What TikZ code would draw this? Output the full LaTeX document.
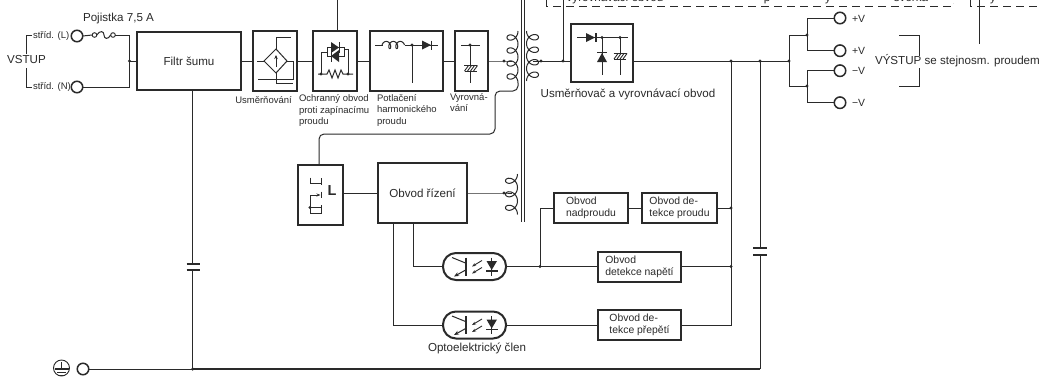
\documentclass[tikz,border=0pt]{standalone}
\usepackage{fontspec}
\setmainfont{Liberation Sans}
\usetikzlibrary{arrows.meta,calc}
\definecolor{ink}{HTML}{2A2A2A}
\newcommand\szA{\fontsize{11.6}{13}\selectfont}
\newcommand\szB{\fontsize{10.4}{11.8}\selectfont}
\newcommand\szC{\fontsize{9.5}{11.6}\selectfont}
\tikzset{
  fA/.style={font=\szA},
  fB/.style={font=\szB},
  fC/.style={font=\szC},
  wire/.style={draw=ink,line width=1pt},
  thin wire/.style={draw=ink,line width=0.9pt},
  hv/.style={draw=ink,line width=1.5pt},
  bx/.style={draw=ink,line width=2.8pt,fill=white,rectangle,inner sep=0pt,outer sep=0pt,align=left,text=ink},
  term/.style={draw=ink,line width=1.5pt,fill=white,circle,inner sep=0pt,outer sep=0pt,minimum size=11.5pt},
  fuseend/.style={draw=ink,line width=.9pt,fill=white,circle,inner sep=0pt,outer sep=0pt,minimum size=4.6pt},
  pill/.style={draw=ink,line width=2pt,fill=white,rectangle,rounded corners=13pt,inner sep=0pt,outer sep=0pt,minimum width=63pt,minimum height=27pt},
  txt/.style={inner sep=0pt,outer sep=0pt,text=ink,align=left},
  dashbox/.style={draw=ink,line width=1pt,dash pattern=on 8pt off 5pt}
}
\newcommand\jd[1]{\fill[ink] (#1) circle (1.7pt);}
\newcommand\ecap[2]{%
  \draw[wire] ({#1-6.5},#2)--({#1+6.5},#2);
  \draw[wire] ({#1-6},{#2+6})--({#1+6},{#2+6});
  \foreach \i in {-6,-3,0,3}{\draw[thin wire] ({#1+\i},{#2+6})--({#1+\i+4},{#2+0.5});}
}
\newcommand\optoin[1]{%
  \draw[hv] (466,{#1-9})--(466,{#1+9});
  \draw[wire] (452,{#1-9})--(466,{#1-3.3});
  \draw[wire,-{Stealth[length=5pt,width=4pt]}] (466,{#1+3.3})--(454,{#1+10});
  \draw[thin wire,-{Stealth[length=4pt,width=3pt]}] (482,{#1-6})--(472,{#1});
  \draw[thin wire,-{Stealth[length=4pt,width=3pt]}] (482,{#1+1})--(472,{#1+7});
  \draw[wire] (491.7,{#1-9})--(491.7,{#1+9});
  \fill[ink] (486.5,{#1-5.5})--(497,{#1-5.5})--(491.7,{#1+3.5})--cycle;
  \draw[hv] (486,{#1+4.7})--(497.5,{#1+4.7});
}
\begin{document}
\begin{tikzpicture}[x=1pt,y=-1pt]
\useasboundingbox (0,0) rectangle (1040,376);
\clip (0,0) rectangle (1040,376);
\fill[white] (0,0) rectangle (1040,376);

% dashed box at the top
\draw[dashbox] (546,0)--(546,6)--(953,6)--(953,3);
\draw[dashbox] (970,0)--(970,6)--(1040,6);
\node[txt,fA,anchor=base] (tv) at (615,1.5) {vyrovnávací obvod};
\node[txt,fA,anchor=base] (tsv) at (911,1.5) {svorka};
\node[txt,fA,anchor=base] (ty1) at (767,1) {p};
\node[txt,fA,anchor=base] (ty2) at (828,1) {y};
\node[txt,fA,anchor=base] (ty3) at (993,1) {y};

% input
\node[txt,fA] (vstup) at (26.5,60) {VSTUP};
\node[txt,fC,anchor=west] (sl) at (33,36) {stříd. (L)};
\node[txt,fC,anchor=west] (sn) at (33,87) {stříd. (N)};
\node[term] (tl) at (77,36) {};
\node[term] (tn) at (77,87) {};
\draw[wire] (26,54)--(26,35)--(32,35);
\draw[wire] (26,68)--(26,87)--(32,87);
\node[txt,fA] (poj) at (118.5,18) {Pojistka 7,5 A};
\node[fuseend] (fa) at (94.5,35) {};
\node[fuseend] (fb) at (113,35) {};
\draw[wire] (tl.east)--(fa.west);
\draw[wire] (fa.east) .. controls (100,30) and (104,31) .. (104,35) .. controls (104,39) and (108,40) .. (fb.west);
\coordinate (jin) at (129.5,61);
\draw[wire] (fb.east)--(129.5,35)--(129.5,87)--(tn.east);
\jd{jin}

% top row boxes
\node[bx,fA,minimum width=104pt,minimum height=58pt] (filtr) at (189,61) {Filtr šumu};
\node[bx,minimum width=44pt,minimum height=60pt] (usm) at (275,61) {};
\node[bx,minimum width=44pt,minimum height=60pt] (och) at (335,61) {};
\node[bx,minimum width=73pt,minimum height=60pt] (pot) at (406.5,61) {};
\node[bx,minimum width=33pt,minimum height=60pt] (vyr) at (471.5,61) {};
\draw[wire] (jin)--(filtr.west);
\draw[wire] (filtr.east)--(usm.west);
\draw[wire] (usm.east)--(och.west);
\draw[wire] (och.east)--(pot.west);
\draw[wire] (pot.east)--(vyr.west);

% bridge
\draw[wire] (276,49)--(276,37)--(291,37);
\draw[wire] (264,61)--(276,49)--(287,61)--(276,73)--cycle;
\draw[wire] (257,61)--(264,61);
\draw[wire] (287,61)--(293,61)--(293,79)--(258,79);
\draw[wire] (276,73)--(276,83)--(293,83);
\draw[thin wire,-{Stealth[length=4pt,width=3.5pt]}] (276,67)--(276,55);

% inrush protection
\coordinate (ctop) at (337,0);
\draw[wire] (ctop)--(ctop|-och.north);
\draw[wire] (318,74)--(327,74)--(329,70)--(332,78)--(335,70)--(338,78)--(341,70)--(343,74)--(353,74);
\draw[wire] (321,74)--(321,52)--(327,52);
\draw[wire] (348,74)--(348,49)--(344,49);
\draw[thin wire] (327,47.5) rectangle (344,56.5);
\fill[ink] (331,42)--(339,47.5)--(331,53)--cycle;
\draw[wire] (339.6,42)--(339.6,53);
\fill[ink] (339,50)--(331,56)--(339,62)--cycle;
\draw[wire] (331,51)--(331,62);
\jd{321,74} \jd{348,74}

% harmonic suppression
\draw[wire] (375,45)--(382.5,45);
\draw[wire] plot[smooth,domain=90:990,samples=61] ({382.75+0.01944*\x-2.5*sin(\x)},{45+3.6*cos(\x)});
\draw[wire] (405,45)--(438,45);
\draw[wire] (412,45)--(412,83);
\fill[ink] (422,40.5)--(431,45)--(422,49.5)--cycle;
\draw[hv] (431.5,40.5)--(431.5,49.5);
\jd{412,45}

% smoothing
\draw[wire] (461,45)--(480,45);
\draw[wire] (470,45)--(470,65);
\ecap{470.5}{65}
\draw[wire] (470,71)--(470,83);
\jd{470,45}

% transformer
\draw[draw=ink,line width=1pt] (521,0)--(521,222);
\draw[draw=ink,line width=1pt] (524,0)--(524,222);
\draw[wire] plot[smooth,domain=0:1440,samples=97] ({512.5+5.5*cos(\x)},{31+0.03611*\x+5.5*sin(\x)});
\coordinate (pe) at (518,83);
\draw[wire] plot[smooth,domain=0:1440,samples=97] ({532.5-6*cos(\x)},{31+0.03472*\x+5.5*sin(\x)});
\draw[wire] plot[smooth,domain=0:1080,samples=73] ({511.5+6*cos(\x)},{174+0.0375*\x+5.5*sin(\x)});
\coordinate (pin) at (504,61);
\coordinate (sout) at (541,61);
\coordinate (jsec) at (563,61);
\draw[wire] (vyr.east)--(pin)--(512,61);
\draw[wire] (533,61)--(sout);
\jd{pin} \jd{sout}
\node[bx,minimum width=45pt,minimum height=60pt] (lbx) at (320.5,195) {};
\draw[wire,rounded corners=5pt] (pe)--(518,91)--(495,91)--(495,134)--(319,134)--(319,165);

% output rectifier
\node[bx,minimum width=62pt,minimum height=58pt] (rect) at (602,53) {};
\draw[wire] (sout)--(rect.west|-sout);
\draw[wire] (jsec)--(563,0);
\jd{jsec}
\draw[wire] (577,37.5)--(628,37.5);
\fill[ink] (586,33)--(595,37.5)--(586,42)--cycle;
\draw[hv] (595.8,33)--(595.8,42);
\draw[wire] (602,37.5)--(602,75);
\draw[hv] (597,52.7)--(607,52.7);
\fill[ink] (602,53)--(607,62)--(597,62)--cycle;
\draw[wire] (620,37.5)--(620,53);
\ecap{620}{53}
\draw[wire] (620,59)--(620,75);
\jd{602,37.5} \jd{620,37.5}
\node[txt,fA] (ru) at (628,94) {Usměrňovač a vyrovnávací obvod};

% output bus
\coordinate (j1) at (731,61);
\coordinate (j2) at (760,61);
\coordinate (j3) at (789,61);
\draw[wire] (rect.east|-j1)--(j3);
\jd{j1} \jd{j2} \jd{j3}
\node[term] (o1) at (840,18) {};
\node[term] (o2) at (840,50.7) {};
\node[term] (o3) at (840,70.7) {};
\node[term] (o4) at (840,102.7) {};
\coordinate (jp) at (807,35);
\coordinate (jm) at (807,86);
\draw[wire] (jp)--(789,35)--(789,86)--(jm);
\draw[wire] (o1.west)--(807,18)--(807,50.7)--(o2.west);
\draw[wire] (o3.west)--(807,70.7)--(807,102.7)--(o4.west);
\jd{jp} \jd{jm}
\node[txt,fB,anchor=west] (l1) at (852,19) {+V};
\node[txt,fB,anchor=west] (l2) at (852,51) {+V};
\node[txt,fB,anchor=west] (l3) at (852,71) {−V};
\node[txt,fB,anchor=west] (l4) at (852,103) {−V};
\draw[wire] (899,35)--(919,35)--(919,56);
\draw[wire] (899,86)--(919,86)--(919,68);
\node[txt,fA,anchor=west] (vy) at (875,61) {VÝSTUP se stejnosm. proudem};
\draw[wire] (979,0)--(979,44);

% captions
\node[txt,fC] (c1) at (263.5,100) {Usměrňování};
\node[txt,fC,anchor=north west] (c2) at (299,94.5) {Ochranný obvod\\proti zapínacímu\\proudu};
\node[txt,fC,anchor=north west] (c3) at (377,94) {Potlačení\\harmonického\\proudu};
\node[txt,fC,anchor=north west] (c4) at (450,93) {Vyrovná-\\vání};

% control
\node[bx,fA,minimum width=89pt,minimum height=60pt] (riz) at (422.5,193) {Obvod řízení};
\draw[wire] (lbx.east|-riz.west)--(riz.west);
\coordinate (jc) at (504,193);
\draw[wire] (riz.east)--(jc)--(512,193);
\jd{jc}
\draw[hv] (321.7,178)--(321.7,185) (321.7,191.7)--(321.7,198.3) (321.7,205)--(321.7,212.7);
\draw[wire] (310,177.7)--(310,183)--(321.7,183);
\draw[wire,-{Stealth[length=4pt,width=3pt]}] (310,195)--(320.5,195);
\draw[wire] (310,195)--(310,213)--(321.7,213);
\draw[wire] (310,207.5)--(321.7,207.5);
\jd{310,207.5}
\node[txt,font=\fontsize{14.5}{16}\selectfont\bfseries] (ll) at (332,190.5) {L};

% detection
\node[bx,fB,minimum width=74pt,minimum height=30pt] (nad) at (591,208) {Obvod\\nadproudu};
\node[bx,fB,minimum width=75pt,minimum height=30pt] (dpr) at (679.5,208) {Obvod de-\\tekce proudu};
\node[bx,fB,minimum width=83pt,minimum height=30pt] (dna) at (639.5,267) {Obvod\\detekce napětí};
\node[bx,fB,minimum width=83pt,minimum height=30pt] (dpe) at (639.5,325) {Obvod de-\\tekce přepětí};
\node[pill] (op1) at (474.5,266.5) {};
\node[pill] (op2) at (474.5,325) {};
\optoin{266.5}
\optoin{325}
\node[txt,fA] (oc) at (477,348) {Optoelektrický člen};
\coordinate (jn) at (540,266.5);
\coordinate (ra) at (413,223);
\coordinate (rb) at (393,223);
\draw[wire] (ra)--(413,266.5)--(op1.west);
\draw[wire] (rb)--(393,325)--(op2.west);
\draw[wire] (op1.east)--(dna.west|-op1.east);
\draw[wire] (jn)--(540,208)--(nad.west);
\draw[wire] (op2.east)--(dpe.west);
\draw[wire] (nad.east)--(dpr.west);
\coordinate (k1) at (731,208);
\coordinate (k2) at (731,266.5);
\draw[wire] (dpr.east)--(k1);
\draw[wire] (dna.east|-k2)--(k2);
\draw[wire] (j1)--(731,325)--(dpe.east);
\jd{jn} \jd{k1} \jd{k2}

% ground
\node[term] (tg) at (83,369) {};
\coordinate (jg) at (192.7,369);
\node[circle,draw=ink,line width=.9pt,inner sep=0pt,outer sep=0pt,minimum size=16pt] (gs) at (61.5,368) {};
\draw[thin wire] (61.5,362)--(61.5,369);
\draw[hv] (54.5,369)--(68.5,369);
\draw[wire] (57,372)--(66,372) (59,375)--(64,375);
\draw[wire] (tg.east)--(jg);
\draw[wire,line width=1.3pt] (jg)--(760,369);
\draw[wire] (j2)--(760,369);
\coordinate (fs) at (192.7,90);
\draw[wire] (fs)--(jg);
\jd{jg}
% capacitors
\fill[white] (186,265) rectangle (200,269);
\fill[white] (752,249) rectangle (768,254);
\draw[draw=ink,line width=2pt] (186.5,264)--(199.5,264) (186.5,270)--(199.5,270);
\draw[draw=ink,line width=2pt] (753,248)--(767,248) (753,255)--(767,255);
\end{tikzpicture}
\end{document}
